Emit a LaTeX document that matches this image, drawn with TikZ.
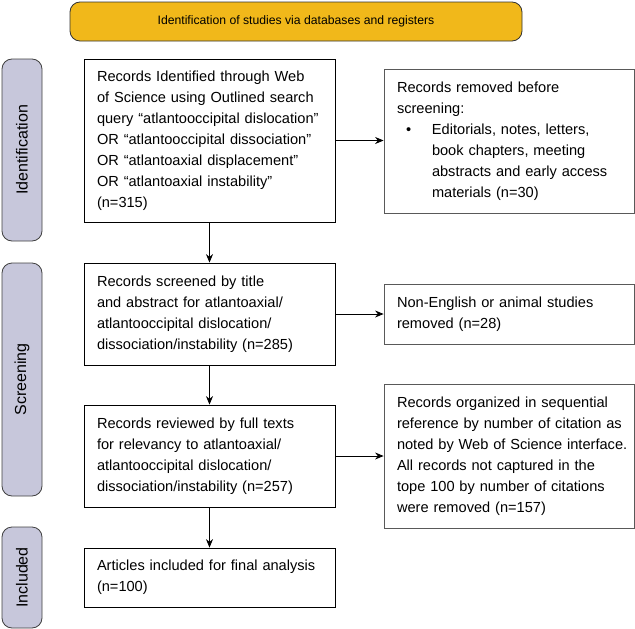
\documentclass[tikz,border=0pt]{standalone}
\usepackage{fontspec}
\setmainfont{Liberation Sans}
\usetikzlibrary{
  arrows.meta,positioning
}
\definecolor{headgold}{HTML}{F1B81A}
\definecolor{sidegray}{HTML}{C7C7DB}

\begin{document}
\begin{tikzpicture}[x=1pt,y=-1pt,
  txt/.style={font=\fontsize{14.6}{21}\selectfont},
  recbox/.style={txt,draw=black,line width=0.8pt,rectangle,align=left,
    inner xsep=13pt,inner ysep=0pt,text width=225pt},
  outbox/.style={recbox,draw=black!65,text width=224pt},
  sidebox/.style={font=\fontsize{16}{19}\selectfont,draw=black!75,fill=sidegray,
    line width=0.8pt,rounded corners=10pt,rotate=90,minimum height=40pt,inner sep=0pt},
  arr/.style={line width=0.8pt,-{Stealth[length=8.5pt,width=7pt]}}
]
\useasboundingbox (0,0) rectangle (635,629);

% header
\node[font=\fontsize{12.2}{15}\selectfont,draw=black!80,fill=headgold,line width=0.8pt,
  rounded corners=10pt,minimum width=452pt,minimum height=39pt,inner sep=0pt]
  (head) at (296,21.5) {Identification of studies via databases and registers};

% phases
\node[sidebox,minimum width=182pt] (ident) at (22,150) {Identification};
\node[sidebox,minimum width=233pt] (screen) at (22,379.5) {Screening};
\node[sidebox,minimum width=101pt] (incl) at (22,577.5) {Included};

% main column
\node[recbox,minimum height=163pt] (found) at (209.5,140.5)
  {Records Identified through Web\\
   of Science using Outlined search\\
   \mbox{query “atlantooccipital dislocation”}\\
   OR “atlantooccipital dissociation”\\
   OR “atlantoaxial displacement”\\
   OR “atlantoaxial instability”\\
   (n=315)};
\node[recbox,minimum height=102pt] (screened) at (209.5,314)
  {Records screened by title\\
   and abstract for atlantoaxial/\\
   atlantooccipital dislocation/\\
   dissociation/instability (n=285)};
\node[recbox,minimum height=102pt] (reviewed) at (209.5,456)
  {Records reviewed by full texts\\
   for relevancy to atlantoaxial/\\
   atlantooccipital dislocation/\\
   dissociation/instability (n=257)};
\node[recbox,minimum height=59pt] (final) at (209.5,577.5)
  {Articles included for final analysis\\
   (n=100)};

% removed column
\node[outbox,minimum height=144pt] (rmfirst) at (509,141)
  {Records removed before\\
   screening:\\
   \makebox[35pt][l]{\hspace{9pt}\textbullet}Editorials, notes, letters,\\
   \hspace*{35pt}book chapters, meeting\\
   \hspace*{35pt}abstracts and early access\\
   \hspace*{35pt}materials (n=30)};
\node[outbox,minimum height=60pt] (rmsecond) at (509,314)
  {Non-English or animal studies\\
   removed (n=28)};
\node[outbox,minimum height=144pt] (rmthird) at (509,456)
  {Records organized in sequential\\
   \mbox{reference by number of citation as}\\
   \mbox{noted by Web of Science interface.}\\
   All records not captured in the\\
   tope 100 by number of citations\\
   were removed (n=157)};

% arrows
\draw[arr] (found) -- (screened);
\draw[arr] (screened) -- (reviewed);
\draw[arr] (reviewed) -- (final);
\draw[arr] (found.east) -- (found.east -| rmfirst.west);
\draw[arr] (screened.east) -- (screened.east -| rmsecond.west);
\draw[arr] (reviewed.east) -- (reviewed.east -| rmthird.west);
\end{tikzpicture}
\end{document}
